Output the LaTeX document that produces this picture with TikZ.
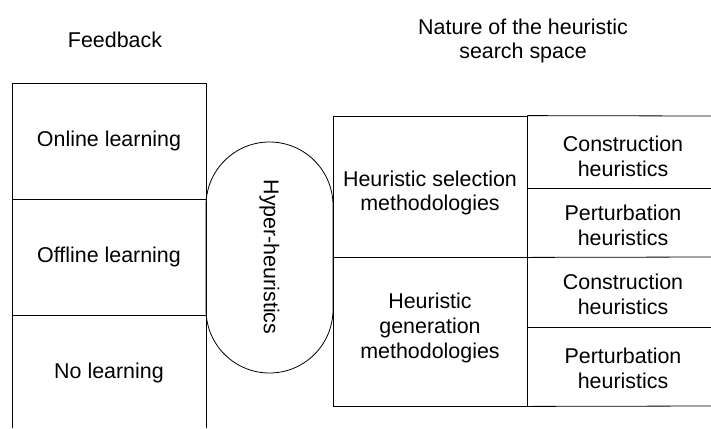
\documentclass[tikz,border=0pt]{standalone}
\usepackage{fontspec}
\setmainfont{Liberation Sans}
\usetikzlibrary{positioning}
\begin{document}
\begin{tikzpicture}[x=1bp,y=-1bp,
  txt/.style={font=\fontsize{21.5}{25}\selectfont, align=center, inner sep=0pt},
  cell/.style={txt, draw, line width=0.8bp, minimum width=194bp},
  lineb/.style={line width=0.8bp}]
\useasboundingbox (0,0) rectangle (711,428);
% headers
\node[txt] (fb) at (115,40) {Feedback};
\node[txt] (nat) at (523,41) {Nature of the heuristic\\search space};
% left column
\node[txt] (on) at (109,141) {Online learning};
\node[txt] (off) at (109,257) {Offline learning};
\node[txt] (no) at (109,373) {No learning};
\draw[lineb] (12,428) -- (12,83) -- (206,83) -- (206,428);
\draw[lineb] (12,199) -- (206,199);
\draw[lineb] (12,315) -- (206,315);
% stadium
\node[draw, line width=0.8bp, rounded corners=63.5bp, minimum width=127bp, minimum height=231bp, inner sep=0pt] (hh) at (269.5,257.5) {};
\node[txt, rotate=-90] (hht) at (269.5,257) {Hyper-heuristics};
% middle
\node[cell, minimum height=141bp] (sel) at (430,186.5) {};
\node[txt] (selt) at (430,193) {Heuristic selection\\methodologies};
\node[cell, minimum height=149bp] (gen) at (430,331.5) {};
\node[txt] (gent) at (430,328) {Heuristic\\generation\\methodologies};
% right column
\node[txt] (c1) at (623,156) {Construction\\heuristics};
\node[txt] (p1) at (623,225) {Perturbation\\heuristics};
\node[txt] (c2) at (623,294) {Construction\\heuristics};
\node[txt] (p2) at (623,368) {Perturbation\\heuristics};
\draw[lineb] (sel.north east) -- (711,116);
\draw[lineb] (527,188) -- (711,188);
\draw[lineb] (sel.south east) -- (711,257);
\draw[lineb] (527,327) -- (711,327);
\draw[lineb] (gen.south east) -- (711,406);
\end{tikzpicture}
\end{document}
